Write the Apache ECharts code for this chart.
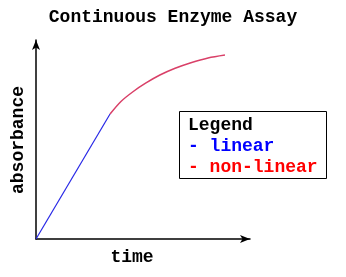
<!DOCTYPE html>
<html><head><meta charset="utf-8">
<script src="https://cdn.jsdelivr.net/npm/echarts@6/dist/echarts.min.js"></script>
<style>html,body{margin:0;padding:0;background:#fff}#c{width:346px;height:277px}</style>
</head><body><div id="c"></div>
<script>
var titleText = 'Continuous Enzyme Assay';
var xName = 'time';
var yName = 'absorbance';
var legendTitle = 'Legend';
var seriesNames = ['linear', 'non-linear'];
var linearData = [[0, 0], [34.6, 62.8]];
var nonLinearData = [[34.6, 62.8], [39.7, 69.1], [45.3, 74.0], [51.4, 78.4], [57.9, 82.4], [65.0, 85.8], [72.4, 88.6], [80.4, 91.0], [88.3, 92.5]];

var FONT = '"Liberation Mono", "Courier New", monospace';
var chart = echarts.init(document.getElementById('c'), null, {renderer: 'canvas'});
var axisCommon = {
  type: 'value', min: 0, max: 100,
  axisLine: {show: true, lineStyle: {color: '#000', width: 1.5}, symbol: ['none', 'arrow'], symbolSize: [6, 10]},
  axisTick: {show: false}, axisLabel: {show: false}, splitLine: {show: false}
};
chart.setOption({
  animation: false,
  grid: {left: 36, top: 40, right: 96, bottom: 38},
  xAxis: axisCommon,
  yAxis: axisCommon,
  series: [
    {name: seriesNames[0], type: 'line', data: linearData, symbol: 'none', lineStyle: {color: '#2626e6', width: 1.2}},
    {name: seriesNames[1], type: 'line', data: nonLinearData, symbol: 'none', smooth: 0.3, lineStyle: {color: '#d94068', width: 1.5}}
  ],
  graphic: [
    {type: 'text', left: 'center', top: 8, style: {text: titleText, font: 'bold 18px ' + FONT, fill: '#000'}},
    {type: 'text', x: 132, y: 257, style: {text: xName, font: 'bold 18px ' + FONT, fill: '#000', align: 'center', verticalAlign: 'middle'}},
    {type: 'text', x: 18, y: 140, rotation: Math.PI / 2, style: {text: yName, font: 'bold 18px ' + FONT, fill: '#000', align: 'center', verticalAlign: 'middle'}},
    {type: 'rect', shape: {x: 179.5, y: 111.5, width: 147, height: 67}, style: {fill: '#fff', stroke: '#000', lineWidth: 1}},
    {type: 'text', x: 188, y: 125, style: {text: legendTitle, font: 'bold 18px ' + FONT, fill: '#000', verticalAlign: 'middle'}},
    {type: 'text', x: 188, y: 146, style: {text: '- ' + seriesNames[0], font: 'bold 18px ' + FONT, fill: '#0000ff', verticalAlign: 'middle'}},
    {type: 'text', x: 188, y: 167, style: {text: '- ' + seriesNames[1], font: 'bold 18px ' + FONT, fill: '#ff0000', verticalAlign: 'middle'}}
  ]
});
</script></body></html>
